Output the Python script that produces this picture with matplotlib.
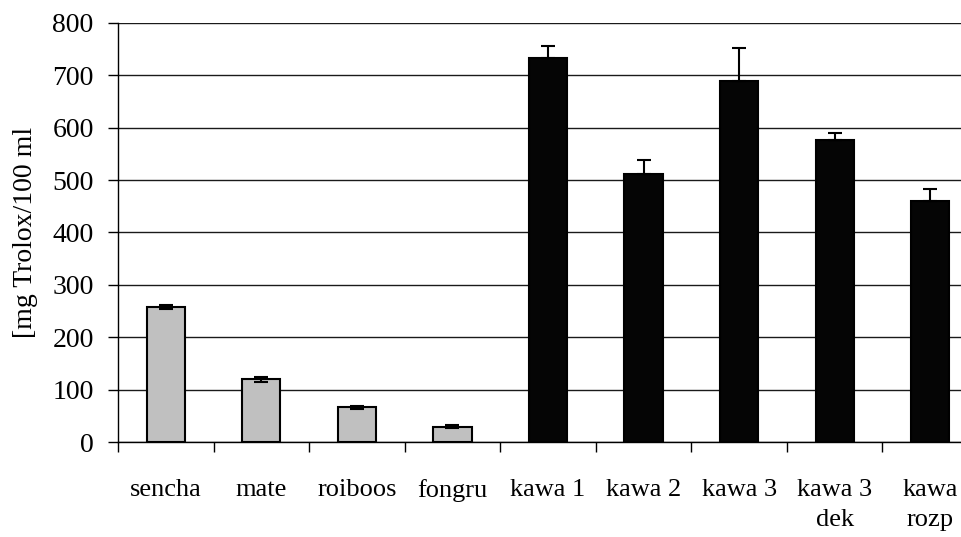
import matplotlib.pyplot as plt
import numpy as np

# data
categories = ['sencha', 'mate', 'roiboos', 'fongru', 'kawa 1', 'kawa 2',
              'kawa 3', 'kawa 3\ndek', 'kawa\nrozp']
values = [257, 120, 66, 29, 733, 512, 689, 576, 460]
errors = [4, 5, 3, 3, 23, 26, 63, 14, 24]
is_tea = [True] * 4 + [False] * 5

plt.rcParams['font.family'] = ['Liberation Serif', 'DejaVu Serif']

fig = plt.figure(figsize=(9.62, 5.37), dpi=100)
# right edge of the plot area sits outside the picture (cropped original)
ax = fig.add_axes([118 / 962, 95 / 537, 860 / 962, 419 / 537])

x = np.arange(len(categories)) + 0.5
colors = ['#C0C0C0' if t else '#050505' for t in is_tea]
ax.bar(x, values, width=0.4, color=colors, edgecolor='black', linewidth=1.5, zorder=3)
# lower half of the whisker disappears inside the black bars
lower = [e if t else 0 for e, t in zip(errors, is_tea)]
ax.errorbar(x, values, yerr=[lower, errors], fmt='none', ecolor='black', elinewidth=1.5,
            capsize=5, capthick=1.5, zorder=4)

ax.set_xlim(0, 9)
ax.set_ylim(0, 800)
ax.set_yticks(range(0, 801, 100))
ax.yaxis.grid(True, color='#1a1a1a', linewidth=1.0, zorder=0)
ax.set_axisbelow(True)

for s in ['top', 'right']:
    ax.spines[s].set_visible(False)
ax.spines['left'].set_linewidth(1.0)
ax.spines['bottom'].set_linewidth(1.0)

ax.set_xticks(x)
ax.set_xticklabels(categories, fontsize=19, linespacing=1.45)
ax.set_xticks(np.arange(0, 10), minor=True)
ax.tick_params(axis='x', which='major', length=0, pad=27)
ax.tick_params(axis='x', which='minor', length=7.5, width=1.0, direction='out')
ax.tick_params(axis='y', length=7.5, width=1.0, direction='out', labelsize=20, pad=10)

ax.set_ylabel('[mg Trolox/100 ml', fontsize=20, labelpad=10)

fig.savefig('out.png', dpi=100)
